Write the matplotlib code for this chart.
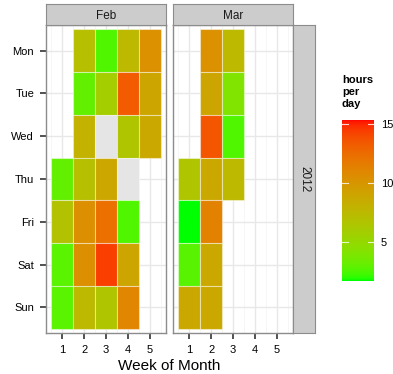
import numpy as np
import matplotlib
matplotlib.use("Agg")
import matplotlib.pyplot as plt
from matplotlib.colors import ListedColormap, Normalize
from matplotlib.patches import Rectangle

plt.rcParams['font.family'] = ['Liberation Sans', 'DejaVu Sans']

days = ["Mon", "Tue", "Wed", "Thu", "Fri", "Sat", "Sun"]
weeks = [1, 2, 3, 4, 5]

# Feb 2012: (week, day, hours), None = missing
feb_week = [1, 1, 1, 1,
            2, 2, 2, 2, 2, 2, 2,
            3, 3, 3, 3, 3, 3, 3,
            4, 4, 4, 4, 4, 4, 4,
            5, 5, 5]
feb_day = ["Thu", "Fri", "Sat", "Sun",
           "Mon", "Tue", "Wed", "Thu", "Fri", "Sat", "Sun",
           "Mon", "Tue", "Wed", "Thu", "Fri", "Sat", "Sun",
           "Mon", "Tue", "Wed", "Thu", "Fri", "Sat", "Sun",
           "Mon", "Tue", "Wed"]
feb_hours = [3.0, 6.8, 2.8, 2.8,
             7.0, 3.0, 8.0, 7.0, 10.5, 10.5, 7.5,
             2.5, 5.8, None, 8.8, 12.3, 14.4, 6.5,
             7.5, 13.3, 6.5, None, 2.5, 9.0, 11.0,
             10.3, 9.0, 8.7]

# Mar 2012
mar_week = [1, 1, 1, 1,
            2, 2, 2, 2, 2, 2, 2,
            3, 3, 3, 3]
mar_day = ["Thu", "Fri", "Sat", "Sun",
           "Mon", "Tue", "Wed", "Thu", "Fri", "Sat", "Sun",
           "Mon", "Tue", "Wed", "Thu"]
mar_hours = [6.5, 1.7, 2.7, 8.7,
             10.3, 9.0, 13.5, 8.7, 11.3, 8.7, 8.7,
             7.5, 4.0, 2.5, 7.5]

scale_min, scale_max = 1.68, 15.37
legend_breaks = [5, 10, 15]


# green -> red gradient in Lab space, like ggplot's scale_fill_gradient
def srgb_to_lab(c):
    c = np.asarray(c, float)
    lin = np.where(c <= 0.04045, c / 12.92, ((c + 0.055) / 1.055) ** 2.4)
    m = np.array([[0.4124, 0.3576, 0.1805],
                  [0.2126, 0.7152, 0.0722],
                  [0.0193, 0.1192, 0.9505]])
    xyz = m @ lin / np.array([0.95047, 1.0, 1.08883])
    f = np.where(xyz > 0.008856, np.cbrt(xyz), 7.787 * xyz + 16 / 116)
    return np.array([116 * f[1] - 16, 500 * (f[0] - f[1]), 200 * (f[1] - f[2])])


def lab_to_srgb(lab):
    L, a, b = lab
    fy = (L + 16) / 116
    fx = fy + a / 500
    fz = fy - b / 200
    f = np.array([fx, fy, fz])
    xyz = np.where(f ** 3 > 0.008856, f ** 3, (f - 16 / 116) / 7.787)
    xyz = xyz * np.array([0.95047, 1.0, 1.08883])
    m = np.array([[3.2406, -1.5372, -0.4986],
                  [-0.9689, 1.8758, 0.0415],
                  [0.0557, -0.2040, 1.0570]])
    lin = m @ xyz
    lin = np.clip(lin, 0, 1)
    c = np.where(lin <= 0.0031308, 12.92 * lin, 1.055 * lin ** (1 / 2.4) - 0.055)
    return np.clip(c, 0, 1)


lo = srgb_to_lab([0, 1, 0])
hi = srgb_to_lab([1, 0, 0])
cmap = ListedColormap([lab_to_srgb(lo + (hi - lo) * t) for t in np.linspace(0, 1, 256)])
norm = Normalize(scale_min, scale_max)

W, H = 393, 374
fig = plt.figure(figsize=(W / 100, H / 100), dpi=100)


def box(x0, y0, x1, y1):
    return [x0 / W, 1 - y1 / H, (x1 - x0) / W, (y1 - y0) / H]


border = "#8C8C8C"
panels = [("Feb", feb_week, feb_day, feb_hours, 46, 166),
          ("Mar", mar_week, mar_day, mar_hours, 173, 293)]

for name, wk, dy, hrs, x0, x1 in panels:
    ax = fig.add_axes(box(x0, 25, x1, 333))
    ax.set_xlim(0.25, 5.75)
    ax.set_ylim(7.6, 0.4)
    for v in np.arange(0.5, 6, 1.0):
        ax.axvline(v, color="#F5F5F5", lw=0.6, zorder=0)
    for v in weeks:
        ax.axvline(v, color="#E8E8E8", lw=1.0, zorder=0)
    for v in range(1, 8):
        ax.axhline(v, color="#E8E8E8", lw=1.0, zorder=0)
    for w, d, h in zip(wk, dy, hrs):
        y = days.index(d) + 1
        fc = "#E5E5E5" if h is None else cmap(norm(h))
        ax.add_patch(Rectangle((w - 0.5, y - 0.5), 1, 1, facecolor=fc,
                               edgecolor=(1, 1, 1, 0.45), lw=0.8, zorder=2))
    ax.set_xticks(weeks)
    ax.set_xticklabels([str(w) for w in weeks])
    ax.set_yticks(range(1, 8))
    if name == "Feb":
        ax.set_yticklabels(days)
    else:
        ax.tick_params(axis="y", left=False, labelleft=False)
    ax.tick_params(direction="out", length=4.5, width=1.2, color="#333333",
                   labelsize=8, labelcolor="black", pad=4)
    for s in ax.spines.values():
        s.set_color(border)
        s.set_linewidth(1.0)

    sax = fig.add_axes(box(x0, 4, x1, 25))
    sax.set_facecolor("#CCCCCC")
    sax.set_xticks([])
    sax.set_yticks([])
    for s in sax.spines.values():
        s.set_color(border)
    sax.text(0.5, 0.45, name, ha="center", va="center", fontsize=8.5,
             color="#1A1A1A", transform=sax.transAxes)

rax = fig.add_axes(box(293, 25, 315, 333))
rax.set_facecolor("#CCCCCC")
rax.set_xticks([])
rax.set_yticks([])
for s in rax.spines.values():
    s.set_color(border)
rax.text(0.5, 0.5, "2012", rotation=-90, ha="center", va="center",
         fontsize=8.5, color="#1A1A1A", transform=rax.transAxes)

fig.text(169.5 / W, 1 - 366 / H, "Week of Month", ha="center", va="center",
         fontsize=11)

# colour bar legend
cax = fig.add_axes(box(342, 120, 374, 281))
grad = np.linspace(scale_min, scale_max, 300).reshape(-1, 1)
cax.imshow(grad, aspect="auto", cmap=cmap, norm=norm, origin="lower",
           extent=[0, 1, scale_min, scale_max])
cax.set_xlim(0, 1)
cax.set_ylim(scale_min, scale_max)
for b in legend_breaks:
    cax.plot([0, 0.2], [b, b], color="white", lw=0.8, alpha=0.8)
    cax.plot([0.8, 1], [b, b], color="white", lw=0.8, alpha=0.8)
cax.set_xticks([])
cax.yaxis.tick_right()
cax.set_yticks(legend_breaks)
cax.tick_params(axis="y", length=0, labelsize=8, pad=5)
for s in cax.spines.values():
    s.set_visible(False)

fig.text(342 / W, 1 - 75 / H, "hours\nper\nday", ha="left", va="top",
         fontsize=8, fontweight="bold", linespacing=1.25)

fig.savefig("out.png", dpi=100)
